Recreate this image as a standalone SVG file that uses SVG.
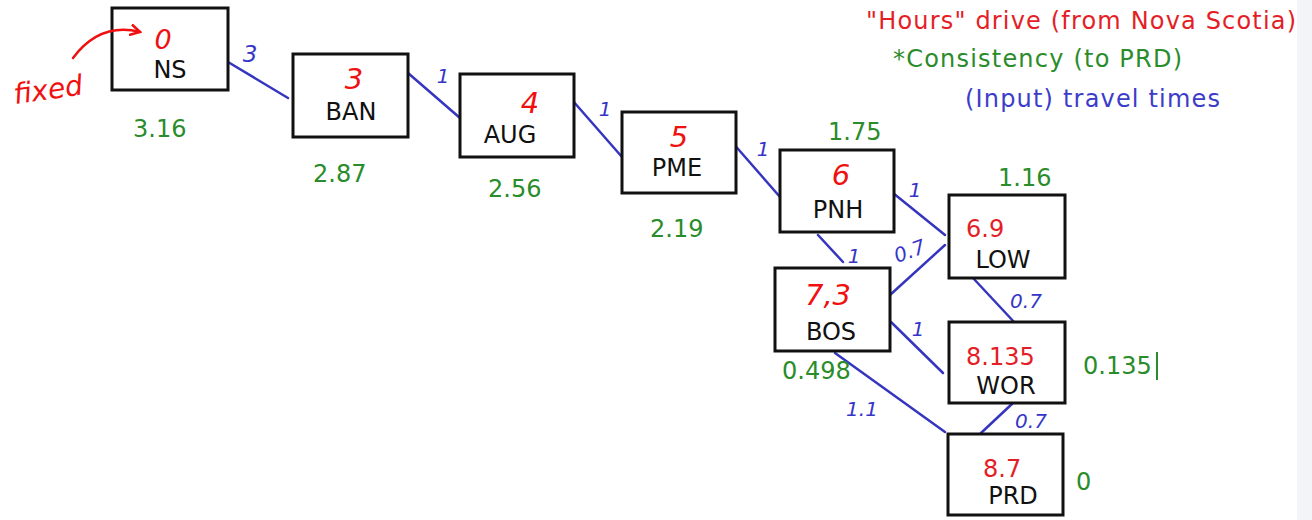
<svg xmlns="http://www.w3.org/2000/svg" width="1312" height="520" viewBox="0 0 1312 520">
<defs>
<style>
.box{fill:#fff;stroke:#111;stroke-width:3}
.lbl{font-family:"DejaVu Sans",Verdana,sans-serif;font-size:24px;fill:#111;text-anchor:middle}
.grn{font-family:"DejaVu Sans",Verdana,sans-serif;font-size:24px;fill:#2a8c2a}
.red{font-family:"DejaVu Sans",Verdana,sans-serif;font-size:24px;fill:#e41e26}
.hred{font-family:"DejaVu Sans",Verdana,sans-serif;font-size:29px;fill:#f01010;font-style:italic;text-anchor:middle}
.hblu{font-family:"DejaVu Sans",Verdana,sans-serif;font-size:20px;fill:#3535c8;font-style:italic;text-anchor:middle}
.edge{stroke:#3535c0;stroke-width:2.5;fill:none;stroke-linecap:round}
.leg{font-family:"DejaVu Sans",Verdana,sans-serif;font-size:24px}
</style>
<marker id="ah" viewBox="0 0 12 12" refX="10" refY="6" markerWidth="12" markerHeight="12" markerUnits="userSpaceOnUse" orient="auto">
<path d="M1,1 L10,6 L1,11" fill="none" stroke="#f01010" stroke-width="2.5" stroke-linecap="round"/>
</marker>
</defs>
<rect x="0" y="0" width="1312" height="520" fill="#fff"/>
<rect x="1297" y="0" width="15" height="520" fill="#f3f4f7"/>

<g id="legend">
<text class="leg" x="866" y="29" fill="#e41e26" textLength="430">"Hours" drive (from Nova Scotia)</text>
<text class="leg" x="893" y="67" fill="#2a8c2a" textLength="289">*Consistency (to PRD)</text>
<text class="leg" x="965" y="107" fill="#3c3cc8" textLength="255">(Input) travel times</text>
</g>

<g id="connectors">
<line class="edge" x1="228" y1="62" x2="288" y2="98"/>
<line class="edge" x1="408" y1="73" x2="460" y2="118"/>
<line class="edge" x1="573" y1="101" x2="622" y2="157"/>
<line class="edge" x1="732" y1="142" x2="780" y2="197"/>
<line class="edge" x1="893" y1="193" x2="945" y2="235"/>
<line class="edge" x1="818" y1="235" x2="843" y2="262"/>
<line class="edge" x1="890" y1="295" x2="945" y2="245"/>
<line class="edge" x1="973" y1="278" x2="1015" y2="323"/>
<line class="edge" x1="891" y1="322" x2="943" y2="373"/>
<line class="edge" x1="835" y1="353" x2="945" y2="432"/>
<line class="edge" x1="1013" y1="403" x2="981" y2="433"/>
<text class="hblu" x="250" y="62" style="font-size:23px">3</text>
<text class="hblu" x="443" y="83">1</text>
<text class="hblu" x="605" y="116">1</text>
<text class="hblu" x="763" y="156">1</text>
<text class="hblu" x="915" y="197">1</text>
<text class="hblu" x="854" y="263">1</text>
<text class="hblu" x="910" y="258" transform="rotate(-20 910 252)">0.7</text>
<text class="hblu" x="1026" y="308">0.7</text>
<text class="hblu" x="918" y="336">1</text>
<text class="hblu" x="862" y="416">1.1</text>
<text class="hblu" x="1031" y="428">0.7</text>
</g>

<g id="node-NS">
<rect class="box" x="112" y="8" width="116" height="82"/>
<text class="hred" x="163" y="49" style="font-size:27px">0</text>
<text class="lbl" x="170" y="78">NS</text>
<text class="grn" x="133" y="137">3.16</text>
</g>
<g id="node-BAN">
<rect class="box" x="293" y="54" width="115" height="83"/>
<text class="hred" x="354" y="89">3</text>
<text class="lbl" x="351" y="120">BAN</text>
<text class="grn" x="313" y="182">2.87</text>
</g>
<g id="node-AUG">
<rect class="box" x="460" y="74" width="114" height="83"/>
<text class="hred" x="530" y="113">4</text>
<text class="lbl" x="510" y="143">AUG</text>
<text class="grn" x="488" y="197">2.56</text>
</g>
<g id="node-PME">
<rect class="box" x="622" y="112" width="114" height="81"/>
<text class="hred" x="679" y="147">5</text>
<text class="lbl" x="677" y="176">PME</text>
<text class="grn" x="650" y="237">2.19</text>
</g>
<g id="node-PNH">
<rect class="box" x="780" y="150" width="114" height="82"/>
<text class="hred" x="841" y="185">6</text>
<text class="lbl" x="838" y="218">PNH</text>
<text class="grn" x="828" y="140">1.75</text>
</g>
<g id="node-LOW">
<rect class="box" x="949" y="195" width="116" height="83"/>
<text class="red" x="966" y="237">6.9</text>
<text class="lbl" x="1003" y="268">LOW</text>
<text class="grn" x="998" y="186">1.16</text>
</g>
<g id="node-BOS">
<rect class="box" x="775" y="268" width="115" height="83"/>
<text class="hred" x="828" y="305">7,3</text>
<text class="lbl" x="831" y="340">BOS</text>
<text class="grn" x="782" y="379">0.498</text>
</g>
<g id="node-WOR">
<rect class="box" x="949" y="322" width="116" height="81"/>
<text class="red" x="966" y="365">8.135</text>
<text class="lbl" x="1006" y="394">WOR</text>
<text class="grn" x="1083" y="374">0.135</text>
<line x1="1157" y1="352" x2="1157" y2="380" stroke="#2a8c2a" stroke-width="2"/>
</g>
<g id="node-PRD">
<rect class="box" x="948" y="434" width="115" height="81"/>
<text class="red" x="983" y="477">8.7</text>
<text class="lbl" x="1013" y="504">PRD</text>
<text class="grn" x="1076" y="490">0</text>
</g>

<g id="fixed">
<path d="M73,58 Q100,22 140,32" fill="none" stroke="#f01010" stroke-width="2.5" stroke-linecap="round" marker-end="url(#ah)"/>
<text x="13" y="99" font-family="'DejaVu Sans',Verdana,sans-serif" font-size="28" font-style="italic" fill="#f01010" transform="rotate(-8 50 88)">fixed</text>
</g>
</svg>
